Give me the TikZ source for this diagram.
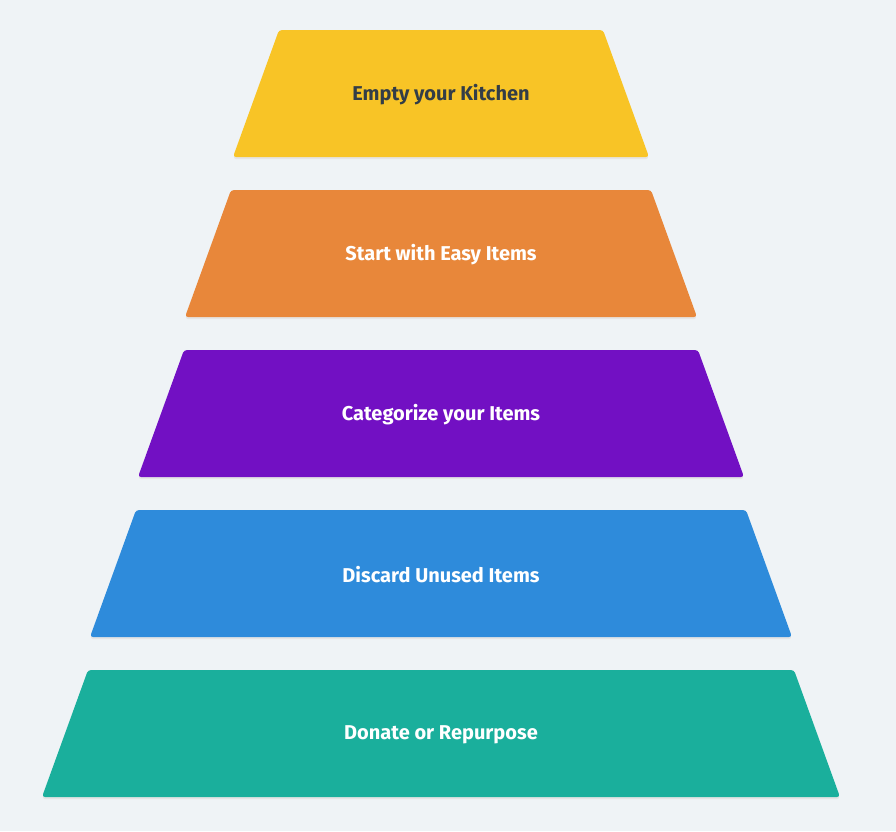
\documentclass[tikz,border=0pt]{standalone}
\usepackage{fontspec}
\setmainfont{Fira Sans}
\usetikzlibrary{positioning}

\definecolor{bgcol}{HTML}{EFF3F6}
\definecolor{tierA}{HTML}{F8C426}
\definecolor{tierB}{HTML}{E8873A}
\definecolor{tierC}{HTML}{7210C3}
\definecolor{tierD}{HTML}{2E8BDB}
\definecolor{tierE}{HTML}{1AAF9C}
\definecolor{darktext}{HTML}{333D47}

\begin{document}
\begin{tikzpicture}[x=1pt,y=-1pt,
    tierlabel/.style={font=\fontsize{20}{24}\selectfont\bfseries}]
    % Background
    \fill[bgcol] (0,0) rectangle (896,831);
    \useasboundingbox (0,0) rectangle (896,831);

    % Tiers: top y, top half-width, colour, text colour, label
    \foreach \y/\w/\c/\t/\name/\txt in {
        30/162/tierA/darktext/kitchen/Empty your Kitchen,
        190/210/tierB/white/easy/Start with Easy Items,
        350/257/tierC/white/categorize/Categorize your Items,
        510/305/tierD/white/discard/Discard Unused Items,
        670/353/tierE/white/donate/Donate or Repurpose}{
        \pgfmathsetmacro{\wb}{\w+46}
        \fill[black!10,rounded corners=3pt,yshift=-2pt]
            (441-\w,\y) -- (441+\w,\y) -- (441+\wb,\y+127) -- (441-\wb,\y+127) -- cycle;
        \fill[\c,rounded corners=3pt]
            (441-\w,\y) -- (441+\w,\y) -- (441+\wb,\y+127) -- (441-\wb,\y+127) -- cycle;
        \node[tierlabel,text=\t] (\name) at (441,\y+65) {\txt};
    }
\end{tikzpicture}
\end{document}
